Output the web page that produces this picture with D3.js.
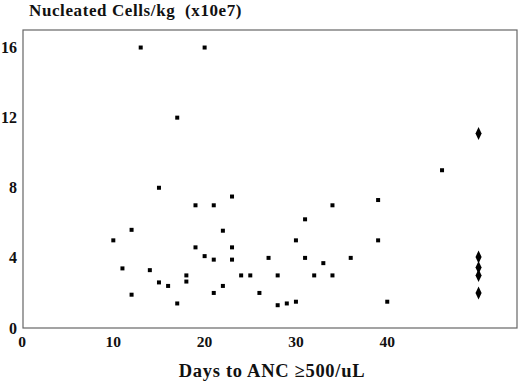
<!DOCTYPE html>
<html><head><meta charset="utf-8">
<script src="https://cdn.jsdelivr.net/npm/d3@7"></script>
<style>body{margin:0;background:#fff}text{font-family:"Liberation Serif","DejaVu Serif",serif;font-weight:bold;fill:#111}</style>
</head><body><svg id="c" width="520" height="383"></svg>
<script>
const days = [10,11,12,12,13,14,15,15,16,17,17,18,18,19,19,20,20,21,21,21,22,22,23,23,23,24,25,26,27,28,28,29,30,30,31,31,32,33,34,34,36,39,39,40,46];
const cells = [5.0,3.4,5.6,1.9,16,3.3,8.0,2.6,2.4,12,1.4,3.0,2.65,7.0,4.6,16,4.1,7.0,3.9,2.0,5.55,2.4,7.5,4.6,3.9,3.0,3.0,2.0,4.0,3.0,1.3,1.4,5.0,1.5,6.2,4.0,3.0,3.7,7.0,3.0,4.0,7.3,5.0,1.5,9.0];
const diamondDays = [50,50,50,50,50];
const diamondCells = [11.1,4.05,3.45,3.0,2.0];
const xTicks = [0,10,20,30,40];
const yTicks = [0,4,8,12,16];

const svg = d3.select("#c");
const L=23,R=517,T=30,B=328;
const x = d3.scaleLinear().domain([0,54.1]).range([22,516]);
const y = d3.scaleLinear().domain([0,17]).range([B,T]);

svg.append("rect").attr("x",L).attr("y",T).attr("width",R-L).attr("height",B-T)
  .attr("fill","none").attr("stroke","#666").attr("stroke-width",1.2);

svg.append("text").attr("x",29).attr("y",15.5).attr("font-size",17).attr("letter-spacing",0.6)
  .style("white-space","pre").text("Nucleated Cells/kg  (x10e7)");

svg.selectAll(".yt").data(yTicks).enter().append("text")
  .attr("x",17).attr("y",d=>y(d)+5.5).attr("text-anchor","end").attr("font-size",16).text(d=>d);
svg.selectAll(".xt").data(xTicks).enter().append("text")
  .attr("x",d=>x(d)).attr("y",347).attr("text-anchor","middle").attr("font-size",15.5).text(d=>d);

svg.append("text").attr("x",272).attr("y",377).attr("text-anchor","middle").attr("font-size",18.5).attr("letter-spacing",0.7)
  .text("Days to ANC \u2265500/uL");

svg.selectAll(".pt").data(days.map((d,i)=>[d,cells[i]])).enter().append("rect")
  .attr("x",d=>x(d[0])-2).attr("y",d=>y(d[1])-2).attr("width",4).attr("height",4).attr("fill","#000");

const sym = d3.symbol().type(d3.symbolDiamond).size(40);
svg.selectAll(".dm").data(diamondDays.map((d,i)=>[d,diamondCells[i]])).enter().append("path")
  .attr("d",sym).attr("transform",d=>`translate(${x(d[0])},${y(d[1])}) scale(0.9,1.1)`).attr("fill","#000");
</script></body></html>
